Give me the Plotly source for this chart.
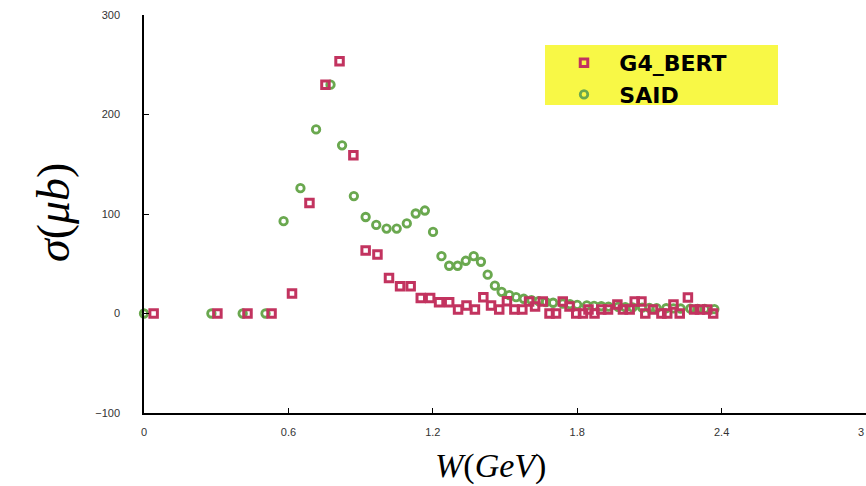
import plotly.graph_objects as go

# SAID partial-wave prediction
said_w = [0, 0.28, 0.41, 0.505, 0.58, 0.65, 0.715, 0.775, 0.823, 0.872, 0.921, 0.965,
          1.008, 1.05, 1.092, 1.129, 1.167, 1.201, 1.236, 1.268, 1.303, 1.337, 1.37, 1.40,
          1.428, 1.458, 1.486, 1.518, 1.546, 1.578, 1.61, 1.64, 1.67, 1.70, 1.74, 1.77,
          1.80, 1.84, 1.87, 1.90, 1.93, 1.97, 2.00, 2.03, 2.07, 2.10, 2.13, 2.17, 2.20,
          2.23, 2.27, 2.30, 2.33, 2.37]
said_sigma = [0, 0, 0, 0, 92.8, 126, 185, 230, 169, 118, 97, 89,
              85.4, 85.4, 90.5, 100.5, 103.5, 82, 57.6, 48, 48, 53, 57.6, 52,
              39, 28, 21.8, 18.4, 16.4, 14.8, 13.5, 12.5, 11.5, 10.8, 10, 9.3,
              8.7, 8.2, 7.7, 7.3, 7, 6.7, 6.4, 6.1, 5.9, 5.7, 5.5, 5.3, 5.1,
              5.0, 4.8, 4.6, 4.5, 4.3]

# Geant4 Bertini cascade
bert_w = [0.04, 0.305, 0.43, 0.53, 0.615, 0.6875, 0.754, 0.8125, 0.87, 0.921, 0.97,
          1.018, 1.064, 1.108, 1.15, 1.189, 1.226, 1.268, 1.305, 1.34, 1.375, 1.41,
          1.442, 1.476, 1.508, 1.539, 1.572, 1.60, 1.625, 1.657, 1.685, 1.712, 1.74,
          1.768, 1.796, 1.824, 1.847, 1.872, 1.90, 1.928, 1.967, 1.99, 2.018, 2.039,
          2.067, 2.083, 2.115, 2.15, 2.174, 2.2, 2.226, 2.26, 2.286, 2.31, 2.34, 2.365]
bert_sigma = [0, 0, 0, 0, 20, 111, 230, 253.5, 159, 63.3, 59.3,
              35.8, 27.4, 27.4, 15.7, 15.7, 11.4, 11.4, 4, 8, 4, 16.4,
              8, 4, 12.4, 4, 4, 12, 7, 12, 0, 0, 12,
              7, 0, 0, 4, 0, 4, 4, 9, 4, 4, 12,
              12, 0, 4, 0, 0, 9, 0, 16, 4, 4, 4, 0]

x_ticks = [0, 0.6, 1.2, 1.8, 2.4]
x_tick_text = ["0", "0.6", "1.2", "1.8", "2.4"]
x_last_tick = 3
y_ticks = [-100, 0, 100, 200, 300]

W, H = 866, 486
ML, MR, MT, MB = 144, 0, 15, 73
PW, PH = W - ML - MR, H - MT - MB


def px_x(p):
    return (p - ML) / PW


def px_y(p):
    return (H - MB - p) / PH


NBSP = "\u00a0"

fig = go.Figure()

fig.add_trace(go.Scatter(
    x=said_w, y=said_sigma, mode="markers", name=NBSP * 2 + "SAID",
    marker=dict(symbol="circle-open", size=7.5, color="#6aa84f",
                line=dict(width=2.8, color="#6aa84f")),
    cliponaxis=False,
))
fig.add_trace(go.Scatter(
    x=bert_w, y=bert_sigma, mode="markers", name=NBSP * 2 + "G4_BERT",
    marker=dict(symbol="square-open", size=7.5, color="#c2335f",
                line=dict(width=3, color="#c2335f")),
    cliponaxis=False,
))

tick_font = dict(family="Liberation Sans, Arial, sans-serif", size=11, color="#333333")

fig.update_layout(
    width=W, height=H,
    margin=dict(l=ML, r=MR, t=MT, b=MB),
    paper_bgcolor="white", plot_bgcolor="white",
    showlegend=True,
    legend=dict(
        x=px_x(564), y=px_y(42), xanchor="left", yanchor="top",
        bgcolor="rgba(0,0,0,0)", borderwidth=0,
        traceorder="reversed", tracegroupgap=0,
        font=dict(family="DejaVu Sans, sans-serif", size=22, color="black", weight="bold"),
    ),
    xaxis=dict(
        range=[0, 3], tickvals=x_ticks + [x_last_tick], ticktext=x_tick_text + [""],
        showgrid=False, zeroline=False, showline=True, linecolor="black", linewidth=1.5,
        ticks="inside", ticklen=5, tickwidth=1.2, tickcolor="black",
        tickfont=tick_font, ticklabelstandoff=8,
    ),
    yaxis=dict(
        range=[-100, 300], tickvals=y_ticks,
        showgrid=False, zeroline=False, showline=True, linecolor="black", linewidth=1.5,
        ticks="inside", ticklen=5, tickwidth=1.2, tickcolor="black",
        tickfont=tick_font, ticklabelstandoff=20,
    ),
    shapes=[dict(
        type="rect", xref="paper", yref="paper",
        x0=px_x(545), x1=px_x(778), y0=px_y(105), y1=px_y(45),
        fillcolor="#f8f846", line=dict(width=0), layer="below",
    )],
    annotations=[
        # last x tick label, kept inside the page at its right edge
        dict(text=str(x_last_tick), xref="x", yref="paper",
             x=x_last_tick, y=px_y(432), showarrow=False,
             xanchor="right", yanchor="middle", font=tick_font),
        dict(text="<i>σ</i>(<i>μb</i>)", xref="paper", yref="paper",
             x=px_x(53), y=px_y(213), textangle=-90, showarrow=False,
             xanchor="center", yanchor="middle",
             font=dict(family="Liberation Serif, serif", size=46, color="black")),
        dict(text="<i>W</i>(<i>GeV</i>)", xref="paper", yref="paper",
             x=px_x(490), y=px_y(466), showarrow=False,
             xanchor="center", yanchor="middle",
             font=dict(family="Liberation Serif, serif", size=34, color="black")),
    ],
)

fig.write_html("out.html")
